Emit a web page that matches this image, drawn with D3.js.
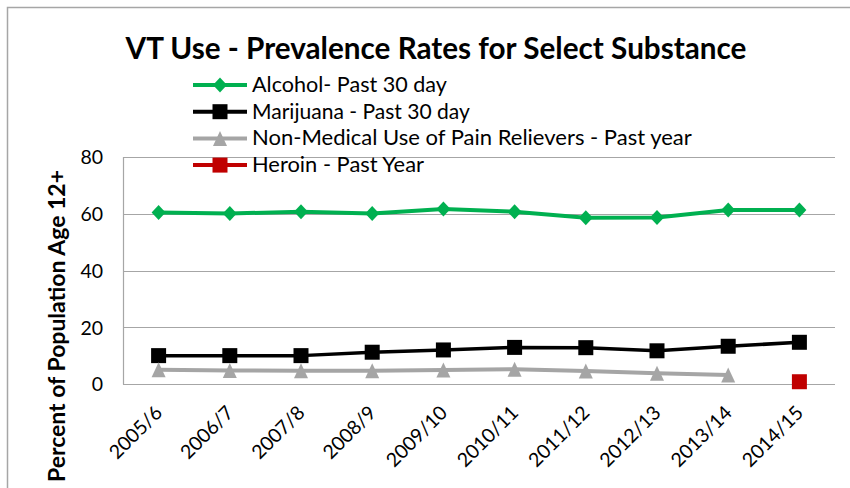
<!DOCTYPE html>
<html>
<head>
<meta charset="utf-8">
<script src="https://cdn.jsdelivr.net/npm/d3@7/dist/d3.min.js"></script>
<style>
  html, body { margin: 0; padding: 0; background: #fff; }
  svg { display: block; }
  text { font-family: Lato, "Open Sans", "Liberation Sans", sans-serif; fill: #000; }
</style>
</head>
<body>
<svg id="chart" width="850" height="488"></svg>
<script>
// School-year survey periods
const years = ["2005/6", "2006/7", "2007/8", "2008/9", "2009/10", "2010/11", "2011/12", "2012/13", "2013/14", "2014/15"];

// Prevalence (%) per survey period; null where not reported
const alcohol   = [60.4, 60.1, 60.7, 60.1, 61.7, 60.7, 58.6, 58.7, 61.3, 61.3];
const marijuana = [10.0, 10.0, 10.0, 11.2, 12.0, 12.9, 12.8, 11.7, 13.3, 14.7];
const painRel   = [5.0, 4.8, 4.7, 4.7, 4.9, 5.2, 4.6, 3.8, 3.2, null];
const heroin    = [null, null, null, null, null, null, null, null, null, 0.8];

const yTicks = [0, 20, 40, 60, 80];
const seriesNames = [
  "Alcohol- Past 30 day",
  "Marijuana - Past 30 day",
  "Non-Medical Use of Pain Relievers - Past year",
  "Heroin - Past Year"
];

const series = [
  { name: seriesNames[0], values: alcohol,   color: "#00B050", marker: "diamond",  width: 4 },
  { name: seriesNames[1], values: marijuana, color: "#000000", marker: "square",   width: 3.5 },
  { name: seriesNames[2], values: painRel,   color: "#A5A5A5", marker: "triangle", width: 4 },
  { name: seriesNames[3], values: heroin,    color: "#C00000", marker: "square",   width: 4 }
];

const svg = d3.select("#chart");
const plot = { left: 123, right: 835, top: 157, bottom: 384 };

// Shrink or grow a text element's font size so it spans a given width
function fitWidth(sel, target) {
  const node = sel.node();
  const fs = parseFloat(sel.attr("font-size"));
  const w = node.getComputedTextLength();
  if (w > 0) sel.attr("font-size", (fs * target / w).toFixed(2));
}

// Outer chart border
svg.append("rect")
  .attr("x", 7.5).attr("y", 7.5)
  .attr("width", 860).attr("height", 500)
  .attr("fill", "none").attr("stroke", "#A6A6A6").attr("stroke-width", 1.5);

const x = d3.scaleBand().domain(years).range([plot.left, plot.right]).padding(0);
const y = d3.scaleLinear().domain([0, 80]).range([plot.bottom, plot.top]);
const cx = d => x(d) + x.bandwidth() / 2;

// Horizontal gridlines
svg.append("g")
  .selectAll("line")
  .data(yTicks)
  .join("line")
  .attr("x1", plot.left).attr("x2", plot.right)
  .attr("y1", d => Math.round(y(d)) + 0.5).attr("y2", d => Math.round(y(d)) + 0.5)
  .attr("stroke", "#A6A6A6").attr("stroke-width", 1.2);

// Vertical axis line
svg.append("line")
  .attr("x1", plot.left + 0.5).attr("x2", plot.left + 0.5)
  .attr("y1", plot.top).attr("y2", plot.bottom + 0.5)
  .attr("stroke", "#A6A6A6").attr("stroke-width", 1.2);

// Y axis tick labels
const yAxis = d3.axisLeft(y).tickValues(yTicks).tickSize(0).tickPadding(20);
const gy = svg.append("g").attr("transform", `translate(${plot.left},0)`).call(yAxis);
gy.select(".domain").remove();
gy.selectAll("text")
  .attr("font-size", 19.5)
  .attr("font-family", "Lato, 'Open Sans', sans-serif")
  .attr("fill", "#000")
  .attr("dy", "0.35em");

// X axis tick labels, rotated
const xAxis = d3.axisBottom(x).tickSize(0).tickPadding(0);
const gx = svg.append("g").attr("transform", `translate(0,${plot.bottom})`).call(xAxis);
gx.select(".domain").remove();
gx.selectAll("text")
  .attr("font-size", 19.5)
  .attr("font-family", "Lato, 'Open Sans', sans-serif")
  .attr("fill", "#000")
  .attr("text-anchor", "end")
  .attr("dy", 0)
  .attr("y", 0)
  .attr("transform", "translate(5,30) rotate(-45)");

// Marker shapes, centred on the data point
function markerPath(kind) {
  const p = d3.path();
  if (kind === "diamond") {
    const w = 7, h = 7.5;
    p.moveTo(0, -h); p.lineTo(w, 0); p.lineTo(0, h); p.lineTo(-w, 0); p.closePath();
  } else if (kind === "triangle") {
    const w = 7, h = 7.5;
    p.moveTo(0, -h); p.lineTo(w, h); p.lineTo(-w, h); p.closePath();
  } else {
    const s = 7.5;
    p.rect(-s, -s, 2 * s, 2 * s);
  }
  return p.toString();
}

const line = d3.line()
  .defined(d => d.v != null)
  .x(d => cx(d.year))
  .y(d => y(d.v));

series.forEach(s => {
  const pts = s.values.map((v, i) => ({ year: years[i], v }));
  svg.append("path")
    .datum(pts)
    .attr("fill", "none")
    .attr("stroke", s.color)
    .attr("stroke-width", s.width)
    .attr("stroke-linejoin", "round")
    .attr("d", line);
  svg.append("g")
    .selectAll("path")
    .data(pts.filter(d => d.v != null))
    .join("path")
    .attr("transform", d => `translate(${cx(d.year)},${y(d.v)})`)
    .attr("d", markerPath(s.marker))
    .attr("fill", s.color);
});

// Legend
const legend = svg.append("g");
const legendTextWidths = [195, 218, 440, 172];
series.forEach((s, i) => {
  const ly = 85 + i * 26.7;
  const g = legend.append("g").attr("transform", `translate(0,${ly})`);
  g.append("line")
    .attr("x1", 193).attr("x2", 247).attr("y1", 0).attr("y2", 0)
    .attr("stroke", s.color).attr("stroke-width", 4);
  g.append("path")
    .attr("transform", "translate(220,0)")
    .attr("d", markerPath(s.marker))
    .attr("fill", s.color);
  const t = g.append("text")
    .attr("x", 252).attr("y", 7)
    .attr("font-size", 20)
    .text(s.name);
  fitWidth(t, legendTextWidths[i]);
});

// Title
const title = svg.append("text")
  .attr("x", 436).attr("y", 59)
  .attr("text-anchor", "middle")
  .attr("font-size", 26)
  .attr("font-weight", "bold")
  .text("VT Use - Prevalence Rates for Select Substance");
fitWidth(title, 621);

// Y axis title
const yTitle = svg.append("text")
  .attr("transform", "translate(65,326) rotate(-90)")
  .attr("text-anchor", "middle")
  .attr("font-size", 19)
  .attr("font-weight", "bold")
  .text("Percent of Population Age 12+");
fitWidth(yTitle, 312);
</script>
</body>
</html>
